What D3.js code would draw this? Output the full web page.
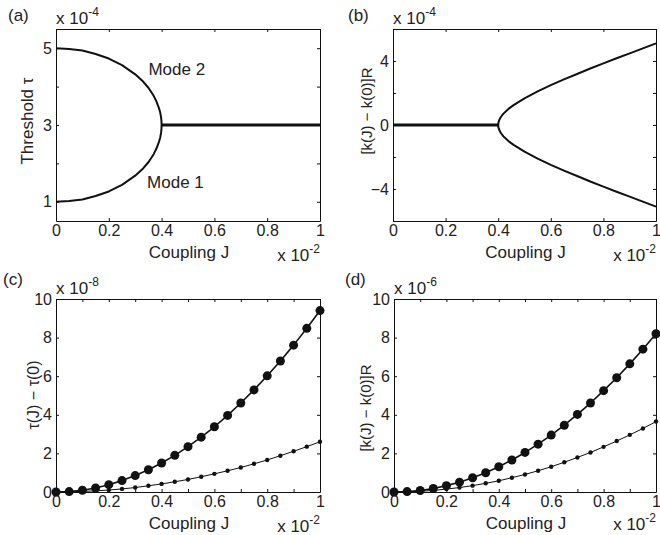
<!DOCTYPE html>
<html>
<head>
<meta charset="utf-8">
<script src="https://cdn.jsdelivr.net/npm/d3@7"></script>
<style>
  body { margin: 0; background: #fff; }
  svg { display: block; font-family: "Liberation Sans", Arial, sans-serif; }
</style>
</head>
<body>
<script>
// ---- data ----

// (a) threshold of the two modes vs coupling J (x 1e-2), tau in units of 1e-4
const jBranch = [0, 0.05, 0.1, 0.15, 0.2, 0.25, 0.3, 0.33, 0.35, 0.37, 0.38, 0.39, 0.395, 0.398, 0.3995, 0.4];
const mode2 = [5.00, 4.98, 4.94, 4.85, 4.73, 4.56, 4.32, 4.13, 3.97, 3.76, 3.62, 3.44, 3.32, 3.20, 3.10, 3.00];
const mode1 = [1.00, 1.02, 1.06, 1.15, 1.27, 1.44, 1.68, 1.87, 2.03, 2.24, 2.38, 2.56, 2.68, 2.80, 2.90, 3.00];
const jFlat = [0.4, 1.0];
const tauFlat = [3.0, 3.0];

// (b) [k(J) - k(0)]R, units of 1e-4
const jSplit = [0, 0.4, 0.401, 0.405, 0.41, 0.42, 0.44, 0.46, 0.5, 0.55, 0.6, 0.65, 0.7, 0.75, 0.8, 0.85, 0.9, 0.95, 1.0];
const kUpper = [0, 0, 0.16, 0.35, 0.50, 0.71, 1.02, 1.26, 1.67, 2.10, 2.49, 2.85, 3.19, 3.53, 3.85, 4.17, 4.48, 4.79, 5.10];
const kLower = [0, 0, -0.16, -0.35, -0.50, -0.71, -1.02, -1.26, -1.67, -2.10, -2.49, -2.85, -3.19, -3.53, -3.85, -4.17, -4.48, -4.79, -5.10];

// (c), (d) sampled points
const jPts = [0, 0.05, 0.1, 0.15, 0.2, 0.25, 0.3, 0.35, 0.4, 0.45, 0.5, 0.55, 0.6, 0.65, 0.7, 0.75, 0.8, 0.85, 0.9, 0.95, 1.0];
const tauBig = [0, 0.02, 0.09, 0.21, 0.38, 0.59, 0.85, 1.15, 1.50, 1.90, 2.35, 2.84, 3.38, 3.97, 4.61, 5.29, 6.02, 6.79, 7.61, 8.48, 9.40];
const tauSmall = [0, 0.01, 0.03, 0.06, 0.10, 0.16, 0.23, 0.32, 0.42, 0.53, 0.65, 0.79, 0.94, 1.10, 1.27, 1.46, 1.66, 1.88, 2.11, 2.35, 2.60];
const kBig = [0, 0.02, 0.08, 0.18, 0.33, 0.51, 0.74, 1.00, 1.31, 1.66, 2.05, 2.48, 2.95, 3.46, 4.02, 4.61, 5.25, 5.92, 6.64, 7.40, 8.20];
const kSmall = [0, 0.01, 0.04, 0.08, 0.15, 0.23, 0.33, 0.45, 0.58, 0.74, 0.91, 1.10, 1.31, 1.54, 1.79, 2.05, 2.34, 2.64, 2.96, 3.29, 3.65];

// ticks
const xLabelTicks = [0, 0.2, 0.4, 0.6, 0.8, 1];
const xFineTicks = [0, 0.1, 0.2, 0.3, 0.4, 0.5, 0.6, 0.7, 0.8, 0.9, 1];
const yTicksA = [1, 2, 3, 4, 5];
const yLabelsA = [1, 3, 5];
const yTicksB = [-6, -4, -2, 0, 2, 4, 6];
const yLabelsB = [-4, 0, 4];
const yTicksC = [0, 2, 4, 6, 8, 10];

const width = 660;
const height = 535;
const ink = "#111";

const svg = d3.select("body").append("svg")
  .attr("width", width)
  .attr("height", height);

const fmt = d3.format("~g");

function makePanel(p) {
  const g = svg.append("g");
  const x = d3.scaleLinear().domain([0, 1]).range([p.left, p.right]);
  const y = d3.scaleLinear().domain(p.yDomain).range([p.bottom, p.top]);
  const has = (arr, d) => arr.some(v => Math.abs(v - d) < 1e-9);

  const styleAxis = sel => {
    sel.attr("font-size", 16).attr("font-family", null).attr("color", ink);
    sel.selectAll("text").attr("fill", "#222");
  };

  g.append("g")
    .attr("transform", `translate(0,${p.bottom})`)
    .call(d3.axisBottom(x).tickValues(p.xTicks).tickSizeInner(-3).tickSizeOuter(0).tickPadding(4)
      .tickFormat(d => has(xLabelTicks, d) ? fmt(d) : ""))
    .call(styleAxis);
  g.append("g")
    .attr("transform", `translate(0,${p.top})`)
    .call(d3.axisTop(x).tickValues(p.xTicks).tickSizeInner(-3).tickSizeOuter(0).tickFormat(""))
    .call(styleAxis);
  g.append("g")
    .attr("transform", `translate(${p.left},0)`)
    .call(d3.axisLeft(y).tickValues(p.yTicks).tickSizeInner(-3).tickSizeOuter(0).tickPadding(4)
      .tickFormat(d => has(p.yLabels, d) ? fmt(d) : ""))
    .call(styleAxis);
  g.append("g")
    .attr("transform", `translate(${p.right},0)`)
    .call(d3.axisRight(y).tickValues(p.yTicks).tickSizeInner(-3).tickSizeOuter(0).tickFormat(""))
    .call(styleAxis);

  // panel letter
  g.append("text")
    .attr("x", p.letterX).attr("y", p.top - p.letterUp)
    .attr("font-size", 17).attr("fill", "#222")
    .text(p.letter);

  // exponent above y axis
  const ey = g.append("text")
    .attr("x", p.left).attr("y", p.top - 5)
    .attr("font-size", 17).attr("fill", "#222");
  ey.append("tspan").text("x 10");
  ey.append("tspan").attr("dy", -8).attr("font-size", 12).text(p.yExp);

  // exponent under x axis
  const ex = g.append("text")
    .attr("x", p.right).attr("y", p.bottom + p.xExpDy)
    .attr("text-anchor", "end")
    .attr("font-size", 17).attr("fill", "#222");
  ex.append("tspan").text("x 10");
  ex.append("tspan").attr("dy", -8).attr("font-size", 12).text("-2");

  // x label
  g.append("text")
    .attr("x", (p.left + p.right) / 2 + 1).attr("y", p.bottom + 37)
    .attr("text-anchor", "middle")
    .attr("font-size", 17).attr("fill", "#222")
    .text("Coupling J");

  // y label
  g.append("text")
    .attr("transform", `translate(${p.yLabelX},${p.yLabelY}) rotate(-90)`)
    .attr("text-anchor", "middle")
    .attr("font-size", p.yLabelSize).attr("fill", "#222")
    .text(p.yLabel);

  return { g, x, y };
}

function drawLine(panel, xs, ys, w) {
  const line = d3.line()
    .x(i => panel.x(xs[i]))
    .y(i => panel.y(ys[i]));
  panel.g.append("path")
    .attr("d", line(d3.range(xs.length)))
    .attr("fill", "none")
    .attr("stroke", ink)
    .attr("stroke-width", w)
    .attr("stroke-linejoin", "round");
}

function drawDots(panel, xs, ys, r) {
  panel.g.append("g")
    .selectAll("circle")
    .data(d3.range(xs.length))
    .join("circle")
    .attr("cx", i => panel.x(xs[i]))
    .attr("cy", i => panel.y(ys[i]))
    .attr("r", r)
    .attr("fill", ink);
}

// (a)
const pa = makePanel({
  left: 56, right: 320, top: 29, bottom: 221,
  yDomain: [0.5, 5.5], xTicks: xLabelTicks, yTicks: yTicksA, yLabels: yLabelsA,
  letter: "(a)", letterX: 8, letterUp: 8, yExp: "-4", xExpDy: 40,
  yLabel: "Threshold \u03c4", yLabelX: 33, yLabelY: 121, yLabelSize: 17
});
drawLine(pa, jBranch, mode2, 2);
drawLine(pa, jBranch, mode1, 2);
drawLine(pa, jFlat, tauFlat, 2.8);
pa.g.append("text").attr("x", pa.x(0.35)).attr("y", pa.y(4.3))
  .attr("font-size", 17).attr("fill", "#222").text("Mode 2");
pa.g.append("text").attr("x", pa.x(0.345)).attr("y", pa.y(1.36))
  .attr("font-size", 17).attr("fill", "#222").text("Mode 1");

// (b)
const pb = makePanel({
  left: 393, right: 656, top: 29, bottom: 221,
  yDomain: [-6, 6], xTicks: xLabelTicks, yTicks: yTicksB, yLabels: yLabelsB,
  letter: "(b)", letterX: 348, letterUp: 8, yExp: "-4", xExpDy: 40,
  yLabel: "[k(J) \u2212 k(0)]R", yLabelX: 372, yLabelY: 111, yLabelSize: 15
});
drawLine(pb, jSplit, kUpper, 2);
drawLine(pb, jSplit, kLower, 2);
drawLine(pb, jSplit.slice(0, 2), kUpper.slice(0, 2), 2.8);

// (c)
const pc = makePanel({
  left: 56, right: 320, top: 299, bottom: 492,
  yDomain: [0, 10], xTicks: xFineTicks, yTicks: yTicksC, yLabels: yTicksC,
  letter: "(c)", letterX: 3, letterUp: 14, yExp: "-8", xExpDy: 40,
  yLabel: "\u03c4(J) \u2212 \u03c4(0)", yLabelX: 39, yLabelY: 395, yLabelSize: 16
});
drawLine(pc, jPts, tauSmall, 1);
drawDots(pc, jPts, tauSmall, 2.2);
drawLine(pc, jPts, tauBig, 1.6);
drawDots(pc, jPts, tauBig, 4.5);

// (d)
const pd = makePanel({
  left: 394, right: 656, top: 299, bottom: 492,
  yDomain: [0, 10], xTicks: xFineTicks, yTicks: yTicksC, yLabels: yTicksC,
  letter: "(d)", letterX: 345, letterUp: 14, yExp: "-6", xExpDy: 38,
  yLabel: "[k(J) \u2212 k(0)]R", yLabelX: 371, yLabelY: 408, yLabelSize: 15
});
drawLine(pd, jPts, kSmall, 1);
drawDots(pd, jPts, kSmall, 2.2);
drawLine(pd, jPts, kBig, 1.6);
drawDots(pd, jPts, kBig, 4.5);
</script>
</body>
</html>
